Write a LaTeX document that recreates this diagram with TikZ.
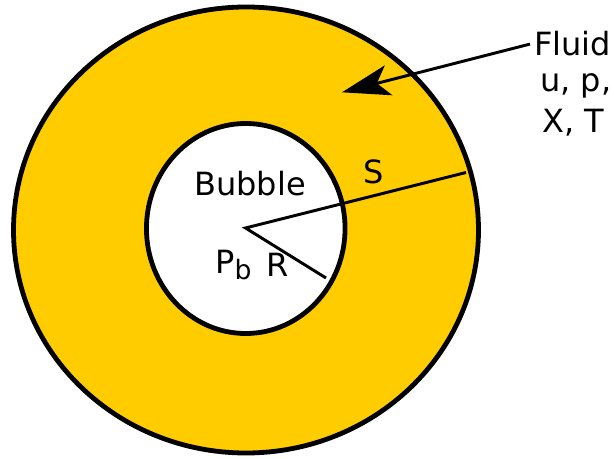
\documentclass[tikz,border=0pt]{standalone}
\usepackage{fontspec}
\setmainfont{DejaVu Sans}
\usetikzlibrary{arrows.meta}
\definecolor{fluidfill}{HTML}{FFCC00}

\begin{document}
\begin{tikzpicture}[x=0.75pt, y=-0.75pt,
    every node/.style={font=\fontsize{24}{28}\selectfont, inner sep=0pt},
    txt/.style={anchor=base west},
    shell/.style={draw=black, line width=3.6pt},
    radline/.style={draw=black, line width=2.2pt},
    pointer/.style={draw=black, line width=2.2pt,
                    -{Stealth[length=36pt, width=23pt, inset=9pt]}},
]
\useasboundingbox (0,0) rectangle (614,459);

% ---------------------------------------------------------------- the shells
% fluid around, bubble inside
\draw[shell, fill=fluidfill] (246,230) ellipse [x radius=232.5, y radius=223];
\draw[shell, fill=white] (245.75,228.5) ellipse [x radius=99.3, y radius=105];

% ---------------------------------------------------------------- radii
\coordinate (centre) at (245.5,228);
\coordinate (sEnd) at (466,172.5);
\coordinate (rEnd) at (326,278);
\draw[radline] (sEnd) -- (centre) -- (rEnd);

% ---------------------------------------------------------------- labels
\node[txt] (fluid) at (534,56) {Fluid};
\node[txt] (varsA) at (540,92) {u, p,};
\node[txt] (varsB) at (542,133) {X, T};
\node[txt] (bubble) at (194,196) {Bubble};
\node[txt] (sLab) at (363,184) {S};
\node[txt] (pLab) at (215,274) {P\raisebox{-4.5pt}{\fontsize{20}{24}\selectfont b}};
\node[txt] (rLab) at (266,277) {R};

% ---------------------------------------------------------------- pointer
\coordinate (fluidTip) at (342,92.3);
\draw[pointer] ([xshift=-3pt]fluid.west) -- (fluidTip);

\end{tikzpicture}
\end{document}
